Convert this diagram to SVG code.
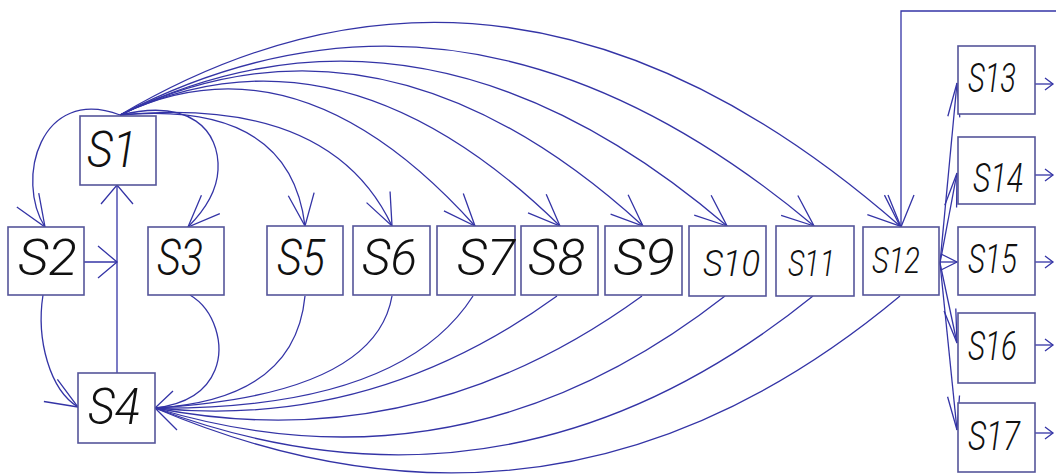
<svg xmlns="http://www.w3.org/2000/svg" width="1056" height="476" viewBox="0 0 1056 476">
<style>
.box{fill:#fff;stroke:#55559a;stroke-width:1.6}
.t{font-family:Roboto,"Liberation Sans",Arial,sans-serif;font-style:italic;font-weight:300;fill:#111}
.t1{font-size:50px}
.t2{font-size:36px}
.t3{font-size:40px}
.c{fill:none;stroke:#3434a6;stroke-width:1.3}
.ah{fill:none;stroke:#3434a6;stroke-width:1.3}
</style>
<defs>
<marker id="big" markerUnits="userSpaceOnUse" viewBox="-40 -20 44 40" refX="0" refY="0" markerWidth="44" markerHeight="40" orient="auto" overflow="visible">
<path class="ah" d="M-32,-13 L0,0 L-32,13"/>
</marker>
<marker id="wide" markerUnits="userSpaceOnUse" viewBox="-30 -20 34 40" refX="0" refY="0" markerWidth="34" markerHeight="40" orient="auto" overflow="visible">
<path class="ah" d="M-19,-16 L0,0 L-19,16"/>
</marker>
<marker id="narrow" markerUnits="userSpaceOnUse" viewBox="-40 -10 44 20" refX="0" refY="0" markerWidth="44" markerHeight="20" orient="auto" overflow="visible">
<path class="ah" d="M-34,-6 L0,0 L-34,6"/>
</marker>
<marker id="short" markerUnits="userSpaceOnUse" viewBox="-20 -10 24 20" refX="0" refY="0" markerWidth="24" markerHeight="20" orient="auto" overflow="visible">
<path class="ah" d="M-16,-8 L0,0 L-16,8"/>
</marker>
<marker id="small" markerUnits="userSpaceOnUse" viewBox="-12 -8 16 16" refX="0" refY="0" markerWidth="16" markerHeight="16" orient="auto" overflow="visible">
<path class="ah" d="M-8,-6 L0,0 L-8,6"/>
</marker>
</defs>

<g id="connectors">
<path class="c" d="M120,115 C40,85 15,180 45,227" marker-end="url(#big)"/>
<path class="c" d="M120,115 C190,98 220,130 218,170 C217,190 205,210 188,227" marker-end="url(#big)"/>
<path class="c" d="M117,373 L117,185" marker-end="url(#wide)"/>
<path class="c" d="M84,262 L117,262" marker-end="url(#wide)"/>
<path class="c" d="M43,295 C36,340 50,390 78,407" marker-end="url(#big)"/>
<path class="c" d="M190,295 C215,310 225,345 215,370 C205,395 180,405 155,408"/>
<path class="ah" d="M173,391 L155,408 L177,430"/>
<path class="c" d="M120,115 Q290,100 305,226" marker-end="url(#big)"/>
<path class="c" d="M120,115 Q330,95 392,226" marker-end="url(#big)"/>
<path class="c" d="M120,115 Q298,29 475,226" marker-end="url(#big)"/>
<path class="c" d="M120,115 Q340,11 560,226" marker-end="url(#big)"/>
<path class="c" d="M120,115 Q382,-12 643,226" marker-end="url(#big)"/>
<path class="c" d="M120,115 Q424,-33 727,226" marker-end="url(#big)"/>
<path class="c" d="M120,115 Q467,-65 814,226" marker-end="url(#big)"/>
<path class="c" d="M120,115 Q510,-115 900,226" marker-end="url(#big)"/>
<path class="c" d="M305,296 Q295,400 155,408"/>
<path class="c" d="M392,296 Q375,395 155,408"/>
<path class="c" d="M473,296 Q400,410 155,408"/>
<path class="c" d="M557,296 Q372,430 155,408"/>
<path class="c" d="M642,296 Q418,459 155,408"/>
<path class="c" d="M725,296 Q463,501 155,408"/>
<path class="c" d="M813,296 Q510,541 155,408"/>
<path class="c" d="M900,296 Q560,580 155,408"/>
<path class="c" d="M1056,11 L901,11 L901,227" marker-end="url(#big)"/>
<path class="c" d="M940,263 L957,83" marker-end="url(#narrow)"/>
<path class="c" d="M940,263 L957,173" marker-end="url(#narrow)"/>
<path class="c" d="M940,262 L957,262" marker-end="url(#short)"/>
<path class="c" d="M940,263 L957,343" marker-end="url(#narrow)"/>
<path class="c" d="M940,263 L957,430" marker-end="url(#narrow)"/>
<path class="c" d="M1035,84 L1053,84" marker-end="url(#small)"/>
<path class="c" d="M1035,175 L1053,175" marker-end="url(#small)"/>
<path class="c" d="M1035,262 L1053,262" marker-end="url(#small)"/>
<path class="c" d="M1035,345 L1053,345" marker-end="url(#small)"/>
<path class="c" d="M1035,433 L1053,433" marker-end="url(#small)"/>
</g>

<g id="S1"><rect class="box" x="80" y="116" width="76" height="69"/><text class="t t1" x="87" y="167" textLength="50" lengthAdjust="spacingAndGlyphs">S1</text></g>
<g id="S2"><rect class="box" x="8" y="227" width="76" height="68"/><text class="t t1" x="18" y="275" textLength="59" lengthAdjust="spacingAndGlyphs">S2</text></g>
<g id="S3"><rect class="box" x="148" y="227" width="76" height="68"/><text class="t t1" x="157" y="275" textLength="46" lengthAdjust="spacingAndGlyphs">S3</text></g>
<g id="S4"><rect class="box" x="78" y="373" width="77" height="70"/><text class="t t1" x="88" y="424" textLength="52" lengthAdjust="spacingAndGlyphs">S4</text></g>
<g id="S5"><rect class="box" x="267" y="226" width="76" height="69"/><text class="t t1" x="277" y="275" textLength="48" lengthAdjust="spacingAndGlyphs">S5</text></g>
<g id="S6"><rect class="box" x="353" y="226" width="77" height="69"/><text class="t t1" x="362" y="275" textLength="55" lengthAdjust="spacingAndGlyphs">S6</text></g>
<g id="S7"><rect class="box" x="437" y="226" width="78" height="69"/><text class="t t1" x="457" y="275" textLength="58" lengthAdjust="spacingAndGlyphs">S7</text></g>
<g id="S8"><rect class="box" x="521" y="226" width="77" height="69"/><text class="t t1" x="528" y="275" textLength="57" lengthAdjust="spacingAndGlyphs">S8</text></g>
<g id="S9"><rect class="box" x="605" y="226" width="77" height="69"/><text class="t t1" x="613" y="275" textLength="62" lengthAdjust="spacingAndGlyphs">S9</text></g>
<g id="S10"><rect class="box" x="689" y="226" width="77" height="70"/><text class="t t2" x="703" y="276" textLength="57" lengthAdjust="spacingAndGlyphs">S10</text></g>
<g id="S11"><rect class="box" x="776" y="226" width="78" height="70"/><text class="t t2" x="788" y="276" textLength="47" lengthAdjust="spacingAndGlyphs">S11</text></g>
<g id="S12"><rect class="box" x="863" y="227" width="76" height="68"/><text class="t t2" x="872" y="273" textLength="48" lengthAdjust="spacingAndGlyphs">S12</text></g>
<g id="S13"><rect class="box" x="958" y="46" width="77" height="68"/><text class="t t3" x="968" y="92" textLength="48" lengthAdjust="spacingAndGlyphs">S13</text></g>
<g id="S14"><rect class="box" x="958" y="137" width="77" height="67"/><text class="t t3" x="973" y="192" textLength="50" lengthAdjust="spacingAndGlyphs">S14</text></g>
<g id="S15"><rect class="box" x="958" y="227" width="77" height="68"/><text class="t t3" x="968" y="273" textLength="49" lengthAdjust="spacingAndGlyphs">S15</text></g>
<g id="S16"><rect class="box" x="958" y="313" width="77" height="70"/><text class="t t3" x="968" y="360" textLength="49" lengthAdjust="spacingAndGlyphs">S16</text></g>
<g id="S17"><rect class="box" x="958" y="403" width="77" height="69"/><text class="t t3" x="968" y="450" textLength="52" lengthAdjust="spacingAndGlyphs">S17</text></g>
</svg>
